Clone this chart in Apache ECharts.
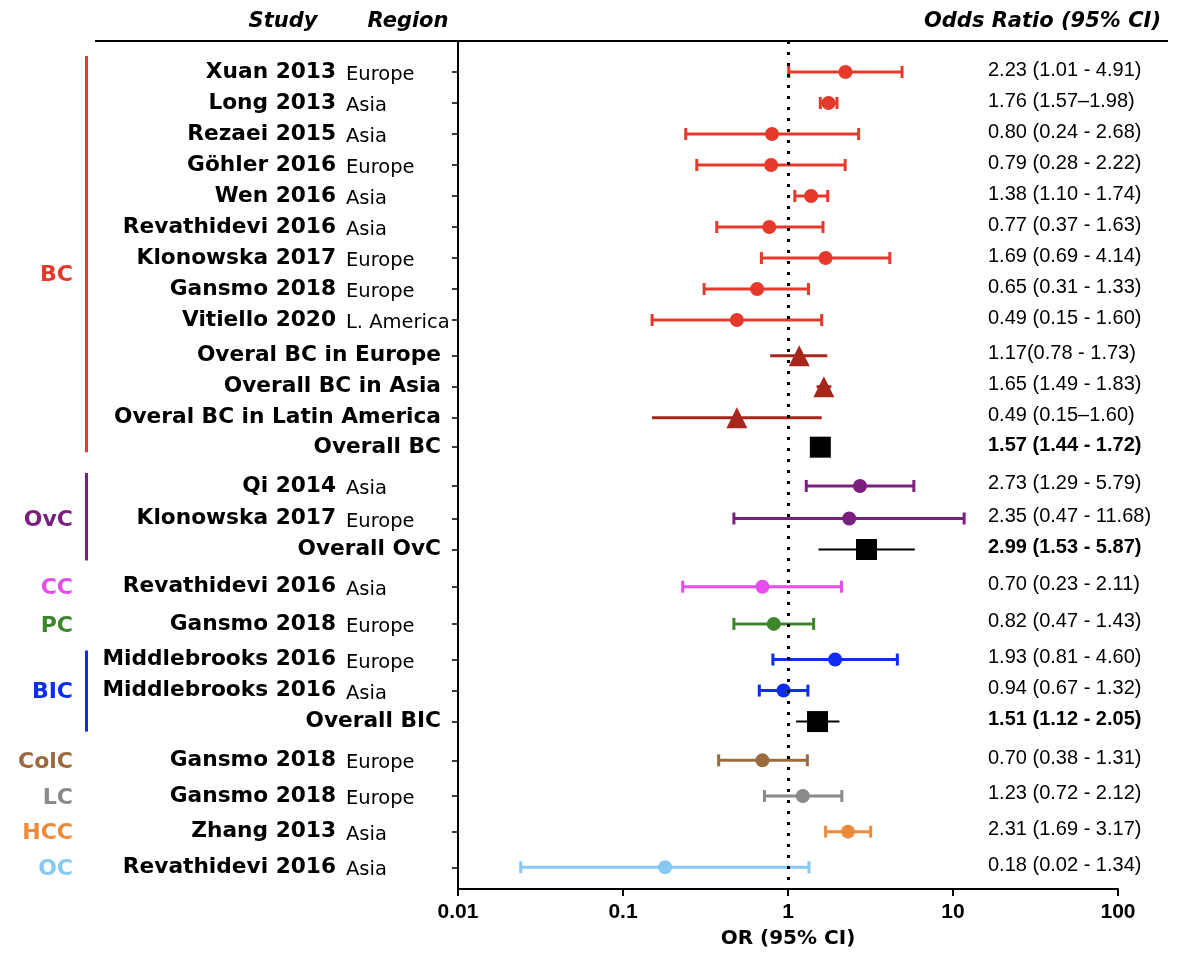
<!DOCTYPE html>
<html>
<head>
<meta charset="utf-8">
<title>Forest plot</title>
<script src="https://cdn.jsdelivr.net/npm/echarts@6/dist/echarts.min.js"></script>
<style>
  html, body { margin: 0; padding: 0; background: #fff; }
  #chart { width: 1180px; height: 958px; }
</style>
</head>
<body>
<div id="chart"></div>
<script>
// rows, top to bottom
var studies = ['Xuan 2013', 'Long 2013', 'Rezaei 2015', 'Göhler 2016', 'Wen 2016', 'Revathidevi 2016',
  'Klonowska 2017', 'Gansmo 2018', 'Vitiello 2020', 'Overal BC in Europe', 'Overall BC in Asia',
  'Overal BC in Latin America', 'Overall BC', 'Qi 2014', 'Klonowska 2017', 'Overall OvC',
  'Revathidevi 2016', 'Gansmo 2018', 'Middlebrooks 2016', 'Middlebrooks 2016', 'Overall BIC',
  'Gansmo 2018', 'Gansmo 2018', 'Zhang 2013', 'Revathidevi 2016'];
var regions = ['Europe', 'Asia', 'Asia', 'Europe', 'Asia', 'Asia', 'Europe', 'Europe', 'L. America',
  '', '', '', '', 'Asia', 'Europe', '', 'Asia', 'Europe', 'Europe', 'Asia', '', 'Europe', 'Europe', 'Asia', 'Asia'];
var cancer = ['BC', 'BC', 'BC', 'BC', 'BC', 'BC', 'BC', 'BC', 'BC', 'BC', 'BC', 'BC', 'BC',
  'OvC', 'OvC', 'OvC', 'CC', 'PC', 'BIC', 'BIC', 'BIC', 'ColC', 'LC', 'HCC', 'OC'];
// s = single study, p = pooled by region, t = overall
var rowKind = ['s', 's', 's', 's', 's', 's', 's', 's', 's', 'p', 'p', 'p', 't',
  's', 's', 't', 's', 's', 's', 's', 't', 's', 's', 's', 's'];
var orValue = [2.23, 1.76, 0.80, 0.79, 1.38, 0.77, 1.69, 0.65, 0.49, 1.17, 1.65, 0.49, 1.57,
  2.73, 2.35, 2.99, 0.70, 0.82, 1.93, 0.94, 1.51, 0.70, 1.23, 2.31, 0.18];
var ciLow = [1.01, 1.57, 0.24, 0.28, 1.10, 0.37, 0.69, 0.31, 0.15, 0.78, 1.49, 0.15, 1.44,
  1.29, 0.47, 1.53, 0.23, 0.47, 0.81, 0.67, 1.12, 0.38, 0.72, 1.69, 0.024];
var ciHigh = [4.91, 1.98, 2.68, 2.22, 1.74, 1.63, 4.14, 1.33, 1.60, 1.73, 1.83, 1.60, 1.72,
  5.79, 11.68, 5.87, 2.11, 1.43, 4.60, 1.32, 2.05, 1.31, 2.12, 3.17, 1.34];
var orText = ['2.23 (1.01 - 4.91)', '1.76 (1.57–1.98)', '0.80 (0.24 - 2.68)', '0.79 (0.28 - 2.22)',
  '1.38 (1.10 - 1.74)', '0.77 (0.37 - 1.63)', '1.69 (0.69 - 4.14)', '0.65 (0.31 - 1.33)',
  '0.49 (0.15 - 1.60)', '1.17(0.78 - 1.73)', '1.65 (1.49 - 1.83)', '0.49 (0.15–1.60)',
  '1.57 (1.44 - 1.72)', '2.73 (1.29 - 5.79)', '2.35 (0.47 - 11.68)', '2.99 (1.53 - 5.87)',
  '0.70 (0.23 - 2.11)', '0.82 (0.47 - 1.43)', '1.93 (0.81 - 4.60)', '0.94 (0.67 - 1.32)',
  '1.51 (1.12 - 2.05)', '0.70 (0.38 - 1.31)', '1.23 (0.72 - 2.12)', '2.31 (1.69 - 3.17)',
  '0.18 (0.02 - 1.34)'];
var xTickLabels = ['0.01', '0.1', '1', '10', '100'];

// layout: row position on the y axis (row units)
var rowSlot = [0, 1, 2, 3, 4, 5, 6, 7, 8, 9.15, 10.15, 11.15, 12.1, 13.35, 14.4, 15.4,
  16.6, 17.8, 18.95, 19.95, 20.95, 22.2, 23.35, 24.5, 25.65];

var colors = {
  BC: '#E5392C', OvC: '#7A1F7E', CC: '#E64CEE', PC: '#3E862B', BIC: '#0E2DF2',
  ColC: '#9A6B3F', LC: '#8A8A8A', HCC: '#EF8A3B', OC: '#86C9F5'
};
var pooledColor = '#A8251B';

// group label position and side bar (px padding above first / below last row)
var groups = [
  { name: 'BC', slot: 6.5, first: 0, last: 12, bar: [16, 5] },
  { name: 'OvC', slot: 14.4, first: 13, last: 15, bar: [13, 11] },
  { name: 'CC', slot: 16.6 },
  { name: 'PC', slot: 17.8 },
  { name: 'BIC', slot: 19.95, first: 18, last: 20, bar: [9, 10] },
  { name: 'ColC', slot: 22.2 },
  { name: 'LC', slot: 23.35 },
  { name: 'HCC', slot: 24.5 },
  { name: 'OC', slot: 25.65 }
];

function rowColor(i) {
  if (rowKind[i] === 't') return '#000';
  if (rowKind[i] === 'p') return pooledColor;
  return colors[cancer[i]];
}

var chart = echarts.init(document.getElementById('chart'));

var option = {
  animation: false,
  grid: { left: 458, right: 62, top: 41, bottom: 69 },
  xAxis: {
    type: 'log',
    logBase: 10,
    min: 0.01,
    max: 100,
    axisLine: { onZero: false, lineStyle: { color: '#000', width: 2 } },
    axisTick: { length: 7, lineStyle: { color: '#000', width: 2 } },
    minorTick: { show: false },
    splitLine: { show: false },
    axisLabel: {
      margin: 13,
      color: '#000',
      fontFamily: 'Liberation Sans',
      fontWeight: 'bold',
      fontSize: 21,
      formatter: function (v, idx) { return xTickLabels[idx]; }
    },
    name: 'OR (95% CI)',
    nameLocation: 'middle',
    nameGap: 40,
    nameTextStyle: { color: '#000', fontFamily: 'DejaVu Sans', fontWeight: 'bold', fontSize: 20 }
  },
  yAxis: [
    {
      type: 'value',
      inverse: true,
      min: -1,
      max: 26.35,
      axisLine: { show: true, onZero: false, lineStyle: { color: '#000', width: 2 } },
      axisTick: { show: true, length: 6, customValues: rowSlot, lineStyle: { color: '#000', width: 1.5 } },
      splitLine: { show: false },
      axisLabel: {
        customValues: rowSlot,
        margin: 8,
        formatter: function (v) {
          var i = rowSlot.indexOf(v);
          if (i < 0) return '';
          if (regions[i]) return '{s|' + studies[i] + '}{r|' + regions[i] + '}';
          return '{o|' + studies[i] + '}';
        },
        rich: {
          s: { fontFamily: 'DejaVu Sans', fontWeight: 'bold', fontSize: 21.7, color: '#000', lineHeight: 26,
               align: 'left' },
          r: { fontFamily: 'DejaVu Sans', fontSize: 19.5, color: '#000', width: 104, align: 'left',
               padding: [0, 0, 0, 10], lineHeight: 22, verticalAlign: 'bottom' },
          o: { fontFamily: 'DejaVu Sans', fontWeight: 'bold', fontSize: 21.7, color: '#000', lineHeight: 26,
               padding: [0, 9, 0, 0] }
        }
      }
    },
    {
      type: 'value',
      position: 'right',
      offset: -130,
      inverse: true,
      min: -1,
      max: 26.35,
      axisLine: { show: false },
      axisTick: { show: false },
      splitLine: { show: false },
      axisLabel: {
        customValues: rowSlot,
        margin: 0,
        formatter: function (v) {
          var i = rowSlot.indexOf(v);
          if (i < 0) return '';
          return (rowKind[i] === 't' ? '{b|' : '{n|') + orText[i] + '}';
        },
        rich: {
          n: { fontFamily: 'Liberation Sans', fontSize: 20, color: '#000', padding: [0, 0, 4, 0] },
          b: { fontFamily: 'Liberation Sans', fontWeight: 'bold', fontSize: 20, color: '#000', padding: [0, 0, 4, 0] }
        }
      }
    }
  ],
  series: [
    {
      type: 'custom',
      name: 'CI',
      z: 2,
      data: ciLow.map(function (lo, i) { return [lo, ciHigh[i], rowSlot[i]]; }),
      encode: { x: [0, 1], y: 2 },
      renderItem: function (params, api) {
        var i = params.dataIndex;
        var a = api.coord([api.value(0), api.value(2)]);
        var b = api.coord([api.value(1), api.value(2)]);
        var col = rowColor(i);
        var w = rowKind[i] === 't' ? 2 : 3;
        var children = [{
          type: 'line',
          shape: { x1: a[0], y1: a[1], x2: b[0], y2: b[1] },
          style: { stroke: col, lineWidth: w }
        }];
        if (rowKind[i] === 's') {
          [a, b].forEach(function (p) {
            children.push({
              type: 'line',
              shape: { x1: p[0], y1: p[1] - 6, x2: p[0], y2: p[1] + 6 },
              style: { stroke: col, lineWidth: 3 }
            });
          });
        }
        return { type: 'group', children: children };
      }
    },
    {
      type: 'scatter',
      name: 'OR',
      z: 3,
      data: orValue.map(function (v, i) {
        var k = rowKind[i];
        return {
          value: [v, rowSlot[i]],
          symbol: k === 's' ? 'circle' : (k === 'p' ? 'triangle' : 'rect'),
          symbolSize: k === 's' ? 14 : 21,
          itemStyle: { color: rowColor(i), opacity: 1 }
        };
      }),
      markLine: {
        silent: true,
        symbol: ['none', 'none'],
        label: { show: false },
        lineStyle: { color: '#000', type: [3, 8], width: 3 },
        data: [{ xAxis: 1 }]
      }
    }
  ]
};

chart.setOption(option);

// header, group labels and side bars
var gfx = [
  { type: 'line', shape: { x1: 95, y1: 41, x2: 1168, y2: 41 }, style: { stroke: '#000', lineWidth: 2 } },
  { type: 'text', x: 283, y: 22, style: { text: 'Study', align: 'center', verticalAlign: 'middle',
    font: 'italic bold 21px "DejaVu Sans"', fill: '#000' } },
  { type: 'text', x: 408, y: 22, style: { text: 'Region', align: 'center', verticalAlign: 'middle',
    font: 'italic bold 21px "DejaVu Sans"', fill: '#000' } },
  { type: 'text', x: 1161, y: 22, style: { text: 'Odds Ratio (95% CI)', align: 'right', verticalAlign: 'middle',
    font: 'italic bold 21px "DejaVu Sans"', fill: '#000' } }
];
groups.forEach(function (g) {
  var col = colors[g.name];
  var y = chart.convertToPixel({ yAxisIndex: 0 }, g.slot);
  gfx.push({ type: 'text', x: 73, y: y + 2, style: { text: g.name, align: 'right', verticalAlign: 'middle',
    font: 'bold 22px "DejaVu Sans"', fill: col } });
  if (g.bar) {
    var y0 = chart.convertToPixel({ yAxisIndex: 0 }, rowSlot[g.first]) - g.bar[0];
    var y1 = chart.convertToPixel({ yAxisIndex: 0 }, rowSlot[g.last]) + g.bar[1];
    gfx.push({ type: 'rect', shape: { x: 85, y: y0, width: 3, height: y1 - y0 }, style: { fill: col } });
  }
});
chart.setOption({ graphic: gfx });
</script>
</body>
</html>
